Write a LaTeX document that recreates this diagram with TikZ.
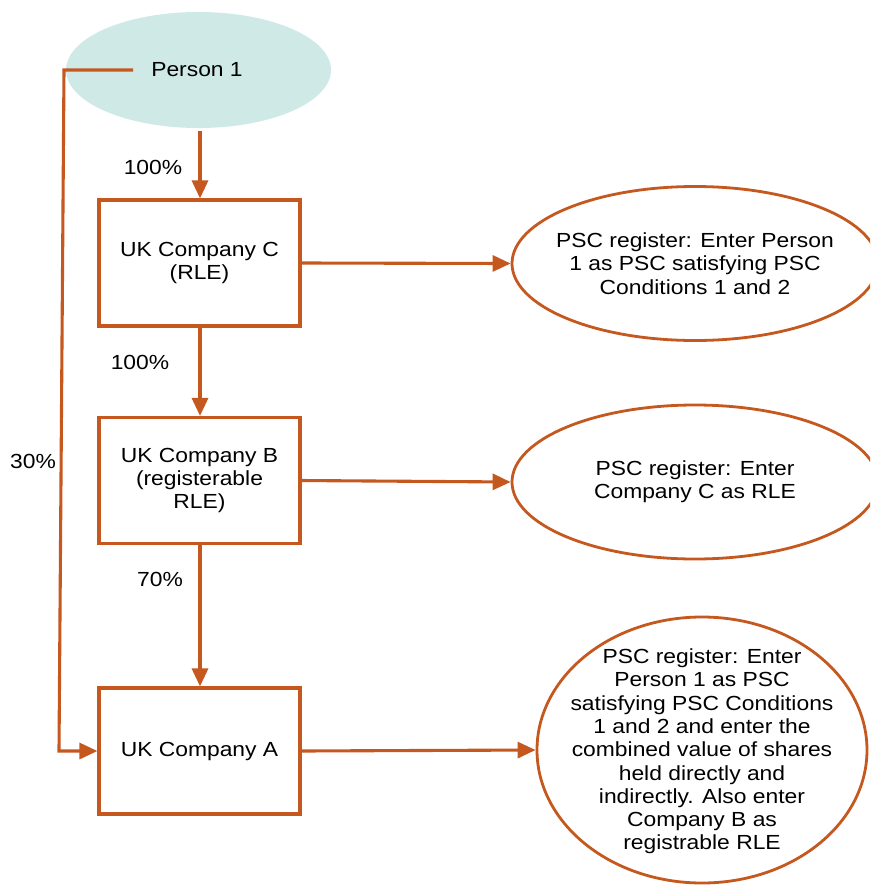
\documentclass[tikz,border=0pt]{standalone}
\usepackage{fontspec}
\setmainfont{Liberation Sans}[FakeStretch=1.12]
\usetikzlibrary{arrows.meta,shapes.geometric}
\definecolor{rust}{RGB}{197,88,30}
\definecolor{teal}{RGB}{207,233,231}
\tikzset{
  conn/.style={draw=rust, line width=3.1pt},
  arr/.style={conn, -{Triangle[length=18pt,width=16pt]}},
  cbox/.style={draw=rust, line width=3.1pt, rectangle, minimum width=201pt, minimum height=126pt, inner sep=0pt, align=center},
  pscell/.style={draw=rust, line width=2.8pt, ellipse, inner sep=0pt},
  txt/.style={align=center, inner sep=0pt, font=\fontsize{20.4}{23.3}\selectfont},
}
\begin{document}
\begin{tikzpicture}[x=1pt,y=-1pt]
\useasboundingbox (0,0) rectangle (870,886);
\begin{scope}
\clip (0,0) rectangle (870,886);
% Person 1
\node[ellipse, fill=teal, minimum width=265pt, minimum height=116pt, inner sep=0pt] (p1) at (198.5,70) {};
\node[txt] (p1t) at (197,70) {Person 1};
% boxes
\node[cbox, txt] (bc) at (199.5,263) {UK Company C\\(RLE)};
\node[cbox, txt] (bb) at (199.5,480.5) {UK Company B\\(registerable\\RLE)};
\node[cbox, txt] (ba) at (199.5,751) {UK Company A};
% ellipses
\node[pscell, minimum width=366pt, minimum height=154pt] (e1) at (695,263.5) {};
\node[txt] (e1t) at (695,263.5) {PSC register: Enter Person\\1 as PSC satisfying PSC\\Conditions 1 and 2};
\node[pscell, minimum width=366pt, minimum height=154pt] (e2) at (695,482) {};
\node[txt] (e2t) at (695,481.5) {PSC register: Enter\\Company C as RLE};
\node[pscell, minimum width=330pt, minimum height=266pt] (e3) at (702,750) {};
\node[txt] (e3t) at (702,751.5) {PSC register: Enter\\Person 1 as PSC\\satisfying PSC Conditions\\1 and 2 and enter the\\combined value of shares\\held directly and\\indirectly. Also enter\\Company B as\\registrable RLE};
% labels
\node[txt] (l1) at (153,167) {100\%};
\node[txt] (l2) at (140,362) {100\%};
\node[txt] (l3) at (160,579) {70\%};
\node[txt] (l4) at (33,461) {30\%};
% connectors
\coordinate (s1) at (133,70);
\coordinate (k1) at (64,70);
\coordinate (k2) at (59,751);
\draw[arr] (s1) -- (k1) -- (k2) -- (ba.west);
\draw[arr] (200,131) -- (bc.north -| 200,0);
\draw[arr] (bc.south -| 200,0) -- (bb.north -| 200,0);
\draw[arr] (bb.south -| 200,0) -- (ba.north -| 200,0);
\draw[arr] (bc.east) -- (e1.west);
\draw[arr] ([xshift=-2pt]bb.east) -- (e2.west);
\draw[arr] (ba.east) -- (e3.west);
\end{scope}
\end{tikzpicture}
\end{document}
